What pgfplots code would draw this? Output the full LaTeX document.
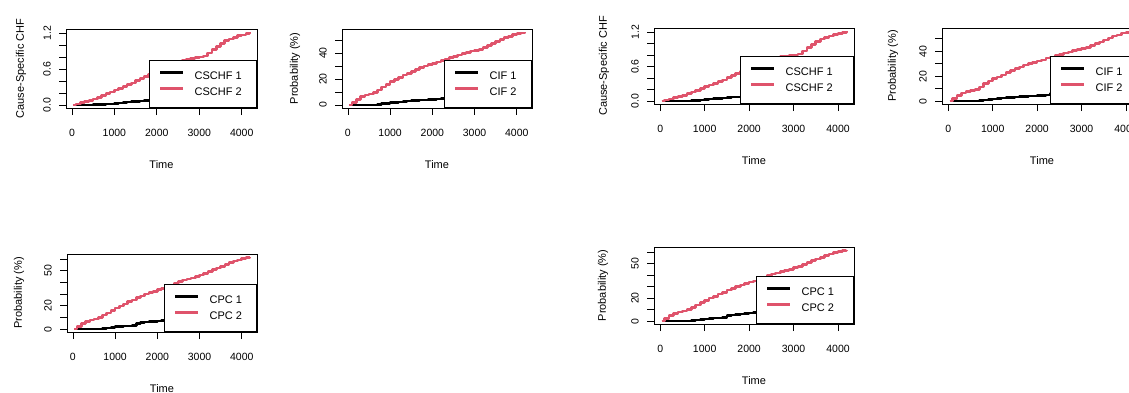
\documentclass[border=0pt]{standalone}
\usepackage{pgfplots}
\usepackage{pgfplotstable}
\pgfplotsset{compat=1.18}
\usepackage{fontspec}
\setmainfont{Liberation Sans}
\definecolor{rred}{HTML}{DF536B}

\pgfplotstableread{
t y
30 0
100 0.02
200 0.04
300 0.06
400 0.08
500 0.10
600 0.13
700 0.16
800 0.19
900 0.22
1000 0.25
1100 0.28
1200 0.31
1300 0.34
1400 0.37
1500 0.41
1600 0.44
1700 0.48
1800 0.51
1900 0.54
2000 0.57
2100 0.60
2200 0.63
2300 0.66
2400 0.69
2500 0.72
2600 0.75
2700 0.77
2800 0.78
2900 0.79
3000 0.80
3100 0.82
3200 0.87
3300 0.93
3400 0.98
3500 1.03
3600 1.08
3700 1.10
3800 1.13
3900 1.16
4000 1.17
4100 1.19
4190 1.21
}\cschftwo

\pgfplotstableread{
t y
30 0
300 0.003
500 0.006
700 0.01
800 0.015
900 0.02
1000 0.03
1100 0.035
1200 0.045
1300 0.05
1400 0.055
1500 0.06
1600 0.07
1700 0.072
1800 0.075
1900 0.08
2000 0.09
2100 0.095
2200 0.10
2400 0.11
2600 0.12
2800 0.13
3000 0.14
3300 0.16
3600 0.18
3900 0.20
4190 0.22
}\cschfone

\pgfplotstableread{
t y
30 0
100 2
200 4.5
300 6.5
400 7.8
500 8.5
600 9.5
700 11.5
800 14
900 16
1000 18
1100 19.5
1200 21
1300 23
1400 24.5
1500 26
1600 27.5
1700 29
1800 30
1900 31
2000 32
2100 33
2200 34.5
2300 35.5
2400 36.5
2500 37.5
2600 38.5
2700 39.5
2800 40.5
2900 41.5
3000 42
3100 43
3200 44.5
3300 46
3400 47.5
3500 49
3600 50.5
3700 52
3800 53
3900 54.5
4000 55
4100 55.5
4190 56
}\ciftwo

\pgfplotstableread{
t y
30 0
500 0.1
600 0.2
700 0.5
800 1.0
900 1.4
1000 1.8
1100 2.1
1200 2.4
1300 2.8
1400 3.0
1500 3.3
1600 3.6
1700 3.8
1800 4.0
1900 4.2
2000 4.5
2100 4.7
2200 5.0
2300 6.0
2400 6.5
2600 7.0
2800 7.5
3000 8.2
3300 9.0
3600 10.0
3900 11.0
4190 12.0
}\cifone

\pgfplotstableread{
t y
30 0
100 2.5
200 5
300 6.5
400 7.8
500 8.7
600 10
700 12
800 14
900 16
1000 18
1100 20
1200 21.5
1300 23.5
1400 25
1500 27
1600 28.5
1700 30
1800 31.5
1900 32.5
2000 34
2100 35
2200 36.5
2300 38
2400 39.5
2500 41
2600 42
2700 43
2800 44
2900 45
3000 46.5
3100 47.5
3200 49.5
3300 51
3400 52.5
3500 54
3600 55.5
3700 57
3800 58.5
3900 59.5
4000 60.5
4100 61.5
4190 62
}\cpctwo

\pgfplotstableread{
t y
30 0
500 0.1
600 0.2
700 0.5
800 1.0
900 1.5
1000 2.0
1100 2.3
1200 2.6
1300 2.8
1400 3.2
1500 5.0
1600 5.5
1700 6.0
1800 6.3
1900 6.6
2000 7.0
2100 7.5
2200 8.3
2400 8.8
2600 9.3
2800 9.8
3000 10.5
3300 11.3
3600 12.0
3900 12.8
4190 13.5
}\cpcone

\pgfplotsset{
  rbase/.style={
    scale only axis,
    anchor=north west,
    xmin=-140, xmax=4360,
    xtick={0,1000,2000,3000,4000},
    xticklabels={0,1000,2000,3000,4000},
    tick align=outside,
    xtick pos=bottom, ytick pos=left,
    major tick length=7pt,
    tick style={black, line width=0.8pt},
    axis line style={line width=0.9pt},
    font=\fontsize{11}{13}\selectfont,
    tick label style={font=\fontsize{10.5}{12}\selectfont},
    yticklabel style={rotate=90, anchor=south, inner sep=0pt},
    xticklabel style={inner sep=0pt, anchor=north},
    xticklabel shift=14pt,
    yticklabel shift=8pt,
    xlabel={Time},
    xlabel style={at={(axis description cs:0.5,0)}, anchor=center, yshift=-57pt},
    legend style={at={(1,0)}, anchor=south east, draw=black, line width=0.8pt,
      fill=white, inner xsep=10pt, inner ysep=10.5pt, row sep=6pt,
      font=\fontsize{11}{13}\selectfont,
      nodes={inner sep=0pt, text height=8pt, text depth=2pt}},
    legend image code/.code={\draw[#1, line width=2.6pt] (0pt,3.5pt) -- (23pt,3.5pt);},
    legend cell align=left,
  },
  cschf/.style={ymin=-0.049, ymax=1.268, ytick={0,0.2,0.4,0.6,0.8,1.0,1.2},
    yticklabels={0.0,,,0.6,,,1.2}, ylabel={Cause-Specific CHF}},
  cif/.style={ymin=-2.25, ymax=58.55, ytick={0,10,20,30,40,50},
    yticklabels={0,,20,,40,}, ylabel={Probability (\%)}},
  cpc/.style={ymin=-2.48, ymax=64.48, ytick={0,10,20,30,40,50,60},
    yticklabels={0,,20,,,50,}, ylabel={Probability (\%)}},
  ylab/.style={ylabel style={at={([xshift=-#1]axis description cs:0,0.5)}, anchor=center}},
  blk/.style={black, line width=2.6pt, const plot, line join=round},
  red/.style={rred, line width=2.6pt, const plot, line join=round},
}
\newcommand{\lent}[2]{\makebox[#1][l]{\hspace{10pt}#2}}

\begin{document}
\begin{tikzpicture}
\useasboundingbox (0,0) rectangle (1129pt,392pt);
\clip (0,0) rectangle (1129pt,392pt);

% P1
\begin{axis}[rbase, cschf, ylab=45pt, at={(66pt,363pt)}, width=191pt, height=79pt]
\addplot[blk] table[x=t,y=y] {\cschfone};
\addlegendentry{\lent{62pt}{CSCHF 1}}
\addplot[red] table[x=t,y=y] {\cschftwo};
\addlegendentry{\lent{62pt}{CSCHF 2}}
\end{axis}

% P2
\begin{axis}[rbase, cif, ylab=47pt, at={(342pt,363pt)}, width=190pt, height=79pt]
\addplot[blk] table[x=t,y=y] {\cifone};
\addlegendentry{\lent{42pt}{CIF 1}}
\addplot[red] table[x=t,y=y] {\ciftwo};
\addlegendentry{\lent{42pt}{CIF 2}}
\end{axis}

% P3
\begin{axis}[rbase, cschf, ylab=50pt, at={(654pt,364pt)}, width=200pt, height=76pt]
\addplot[blk] table[x=t,y=y] {\cschfone};
\addlegendentry{\lent{68pt}{CSCHF 1}}
\addplot[red] table[x=t,y=y] {\cschftwo};
\addlegendentry{\lent{68pt}{CSCHF 2}}
\end{axis}

% P4
\begin{axis}[rbase, cif, ylab=49pt, at={(942pt,364pt)}, width=200pt, height=76pt]
\addplot[blk] table[x=t,y=y] {\cifone};
\addlegendentry{\lent{46pt}{CIF 1}}
\addplot[red] table[x=t,y=y] {\ciftwo};
\addlegendentry{\lent{46pt}{CIF 2}}
\end{axis}

% P5
\begin{axis}[rbase, cpc, ylab=48pt, at={(67pt,138pt)}, width=190pt, height=78pt]
\addplot[blk] table[x=t,y=y] {\cpcone};
\addlegendentry{\lent{47pt}{CPC 1}}
\addplot[red] table[x=t,y=y] {\cpctwo};
\addlegendentry{\lent{47pt}{CPC 2}}
\end{axis}

% P6
\begin{axis}[rbase, cpc, ylab=51pt, at={(654pt,145pt)}, width=200pt, height=77pt]
\addplot[blk] table[x=t,y=y] {\cpcone};
\addlegendentry{\lent{52pt}{CPC 1}}
\addplot[red] table[x=t,y=y] {\cpctwo};
\addlegendentry{\lent{52pt}{CPC 2}}
\end{axis}

\end{tikzpicture}
\end{document}
